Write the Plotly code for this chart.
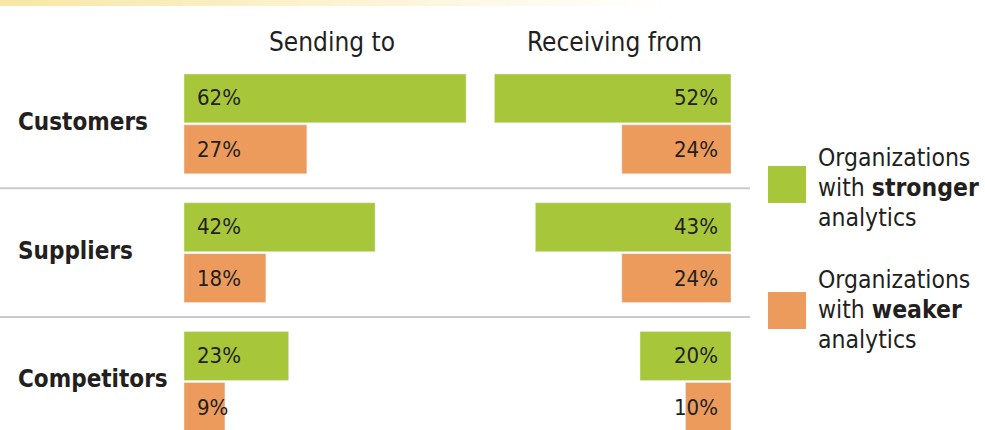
import plotly.graph_objects as go

categories = ["Customers", "Suppliers", "Competitors"]
sending_stronger = [62, 42, 23]
sending_weaker = [27, 18, 9]
receiving_stronger = [52, 43, 20]
receiving_weaker = [24, 24, 10]
panel_titles = ["Sending to", "Receiving from"]
legend_stronger = ["Organizations", "with <b>stronger</b>", "analytics"]
legend_weaker = ["Organizations", "with <b>weaker</b>", "analytics"]

GREEN = "#A7C63A"
ORANGE = "#ED9B5D"
TEXT = "#231F20"
FONT = "DejaVu Sans Condensed, Liberation Sans Narrow, Roboto Condensed, Arial Narrow, sans-serif"

W, H = 985, 430
PX_PER_PCT = 4.55

fig = go.Figure()
fig.add_trace(go.Bar(y=categories, x=sending_stronger, orientation="h", marker_color=GREEN,
                     xaxis="x", yaxis="y", hoverinfo="x+y", name="stronger"))
fig.add_trace(go.Bar(y=categories, x=sending_weaker, orientation="h", marker_color=ORANGE,
                     xaxis="x", yaxis="y", hoverinfo="x+y", name="weaker"))
fig.add_trace(go.Bar(y=categories, x=receiving_stronger, orientation="h", marker_color=GREEN,
                     xaxis="x2", yaxis="y", hoverinfo="x+y", name="stronger"))
fig.add_trace(go.Bar(y=categories, x=receiving_weaker, orientation="h", marker_color=ORANGE,
                     xaxis="x2", yaxis="y", hoverinfo="x+y", name="weaker"))

annotations = []
# value labels
for xa, vals_s, vals_w, anchor, shift in [
    ("x", sending_stronger, sending_weaker, "left", 11),
    ("x2", receiving_stronger, receiving_weaker, "right", -11),
]:
    for cat, vs, vw in zip(categories, vals_s, vals_w):
        for v, ys in [(vs, 26), (vw, -26)]:
            annotations.append(dict(x=0, y=cat, xref=xa, yref="y", text=f"{v}%",
                                    xanchor=anchor, yanchor="middle", xshift=shift, yshift=ys,
                                    showarrow=False, font=dict(family=FONT, size=22, color=TEXT)))
# category labels
for cat in categories:
    annotations.append(dict(x=16 / W, y=cat, xref="paper", yref="y", text=f"<b>{cat}</b>",
                            xanchor="left", yanchor="middle", yshift=2, showarrow=False,
                            font=dict(family=FONT, size=24, color=TEXT)))
# panel titles
for t, cx in zip(panel_titles, [332, 614]):
    annotations.append(dict(x=cx / W, y=1 - 42 / H, xref="paper", yref="paper", text=t,
                            xanchor="center", yanchor="middle", showarrow=False,
                            font=dict(family=FONT, size=26, color=TEXT)))
# legend texts (one annotation per line for tight line spacing)
for lines, cy in [(legend_stronger, 187), (legend_weaker, 309)]:
    for j, line in enumerate(lines):
        annotations.append(dict(x=816 / W, y=1 - (cy + (j - 1) * 30) / H, xref="paper", yref="paper",
                                text=line, xanchor="left", yanchor="middle", align="left",
                                showarrow=False, font=dict(family=FONT, size=24.5, color=TEXT)))

shapes = []
# separators between groups
for yv in [0.5, 1.5]:
    shapes.append(dict(type="line", xref="paper", yref="y", x0=0, x1=750 / W, y0=yv, y1=yv,
                       line=dict(color="#CBCBCB", width=2)))
# legend squares
for col, y0, y1 in [(GREEN, 166, 203), (ORANGE, 292, 329)]:
    shapes.append(dict(type="rect", xref="paper", yref="paper", x0=768 / W, x1=806 / W,
                       y0=1 - y1 / H, y1=1 - y0 / H, fillcolor=col, line=dict(width=0)))
# top gradient band
n = 40
c0 = (248, 231, 166)
for i in range(n):
    f = i / n
    col = tuple(int(round(c0[k] + (255 - c0[k]) * f)) for k in range(3))
    shapes.append(dict(type="rect", xref="paper", yref="paper", x0=i * 660 / n / W,
                       x1=(i + 1) * 660 / n / W + 0.001, y0=1 - 6 / H, y1=1,
                       fillcolor=f"rgb{col}", line=dict(width=0), layer="below"))

# y axis: 1 category = 128.8 px, Customers centre at 123.85 px
unit = 128.8
top = -123.85 / unit
bottom = (H - 123.85) / unit

fig.update_layout(
    width=W, height=H,
    margin=dict(l=0, r=0, t=0, b=0),
    paper_bgcolor="white", plot_bgcolor="rgba(0,0,0,0)",
    barmode="group", bargap=27 / 129, bargroupgap=0.04,
    showlegend=False,
    xaxis=dict(domain=[184 / W, 480 / W], range=[0, 296 / PX_PER_PCT], visible=False, fixedrange=True),
    xaxis2=dict(domain=[485 / W, 731 / W], range=[246 / PX_PER_PCT, 0], visible=False,
                anchor="y", fixedrange=True),
    yaxis=dict(domain=[0, 1], range=[bottom, top], showticklabels=False, showgrid=False,
               zeroline=False, showline=False, ticks="", fixedrange=True),
    annotations=annotations,
    shapes=shapes,
    font=dict(family=FONT, color=TEXT),
)

fig.write_html("out.html", config={"displayModeBar": False},
               post_script="document.body.style.margin='0';document.body.style.overflow='hidden';")
